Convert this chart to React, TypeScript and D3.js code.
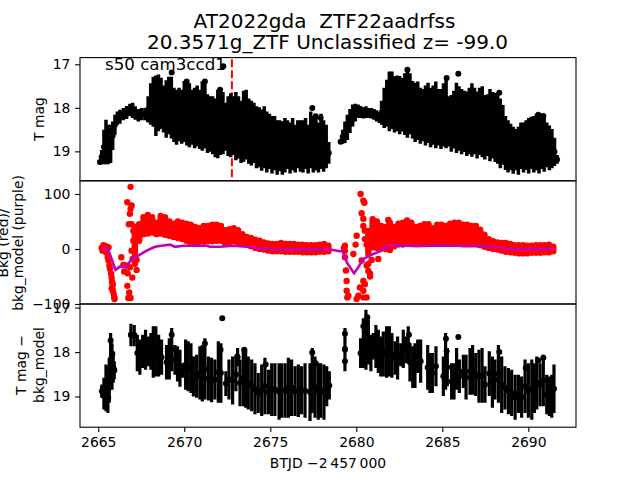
import { useEffect, useRef } from "react";
import * as d3 from "d3";

// T mag, dense part of the first and second orbit (bright and faint end of each bar)
const topTimeA = [2665.10,2665.20,2665.33,2665.45,2665.58,2665.72,2665.84,2665.97,2666.11,2666.26,2666.46,2666.65,2666.84,2667.00,2667.15,2667.33,2667.52,2667.72,2667.87,
  2667.90,2668.05,2668.20,2668.35,2668.50,2668.65,2668.80,2668.95,2669.10,2669.25,2669.40,2669.55,2669.70,2669.85,2670.00,2670.15,2670.30,2670.45,2670.60,2670.75,2670.90,2671.05,2671.20,2671.35,2671.50,2671.65,2671.80,2671.95,2672.10,2672.25,2672.40,2672.55,2672.70,2672.85,2673.00,2673.15,2673.30,2673.45,2673.60,2673.75,2673.90,2674.05,2674.20,2674.35,2674.50,2674.65,2674.80,2674.95,2675.10,2675.25,2675.40,2675.55,2675.70,2675.85,2676.00,2676.15,2676.30,2676.45,2676.60,2676.75,2676.90,2677.05,2677.20,2677.35,2677.50,2677.65,2677.80,2677.95,2678.10,2678.25,2678.40];
const topBrightA = [19.21,18.98,18.52,18.29,18.40,18.40,18.33,18.17,18.10,18.06,18.02,17.97,17.92,17.90,17.98,18.04,18.02,18.02,18.02,
  17.75,17.45,17.30,17.27,17.25,17.32,17.50,17.38,17.30,17.30,17.55,17.60,17.55,17.60,17.40,17.35,17.45,17.60,17.55,17.50,17.60,17.40,17.37,17.70,17.75,17.75,17.80,17.60,17.55,17.65,17.90,17.75,17.68,17.75,17.65,17.75,17.85,17.62,17.60,17.80,17.85,17.90,17.98,18.00,18.05,17.98,18.10,18.15,18.20,18.20,18.30,18.30,18.32,18.25,18.30,18.35,18.25,18.40,18.30,18.30,18.30,18.25,18.40,18.10,18.20,18.25,18.35,18.15,18.30,18.40,18.80];
const topFaintA = [19.31,19.31,19.31,19.31,19.31,19.28,18.98,18.63,18.40,18.38,18.30,18.27,18.21,18.25,18.29,18.33,18.30,18.30,18.33,
  18.35,18.40,18.45,18.66,18.55,18.50,18.58,18.70,18.62,18.72,18.80,18.86,18.78,18.84,18.80,18.88,18.92,18.86,18.94,18.90,18.96,19.00,18.95,19.05,19.02,19.08,19.15,19.17,19.10,19.08,19.00,19.12,19.15,19.10,19.22,19.18,19.28,19.25,19.20,19.30,19.34,19.28,19.40,19.38,19.46,19.40,19.50,19.42,19.52,19.45,19.55,19.47,19.55,19.50,19.42,19.52,19.45,19.50,19.40,19.48,19.50,19.42,19.52,19.40,19.50,19.45,19.50,19.42,19.48,19.40,19.30];
const topTimeB = [2679.09,2679.21,2679.34,2679.48,2679.63,2679.79,2679.94,2680.10,2680.25,2680.41,2680.56,2680.72,2680.87,2681.03,2681.18,2681.34,
  2681.47,2681.62,2681.77,2681.92,2682.07,2682.22,2682.37,2682.52,2682.67,2682.82,2682.97,2683.12,2683.27,2683.42,2683.57,2683.72,2683.87,2684.02,2684.17,2684.32,2684.47,2684.62,2684.77,2684.92,2685.07,2685.22,2685.37,2685.52,2685.67,2685.82,2685.97,2686.12,2686.27,2686.42,2686.57,2686.72,2686.87,2687.02,2687.17,2687.32,2687.47,2687.62,2687.77,2687.92,2688.07,2688.22,2688.37,2688.52,2688.67,2688.82,2688.97,2689.12,2689.27,2689.42,2689.57,2689.72,2689.87,2690.02,2690.17,2690.32,2690.47,2690.62,2690.77,2690.92,2691.07,2691.22,2691.37,2691.52,2691.67];
const topBrightB = [18.75,18.52,18.33,18.17,18.04,17.94,17.92,17.94,17.97,18.00,17.98,18.02,18.02,18.04,18.07,18.12,
  17.85,17.55,17.37,17.18,17.18,17.29,17.27,17.28,17.33,17.22,17.10,17.22,17.40,17.44,17.41,17.55,17.58,17.50,17.44,17.55,17.50,17.41,17.58,17.58,17.45,17.29,17.75,17.72,17.62,17.44,17.52,17.58,17.62,17.64,17.55,17.45,17.55,17.64,17.55,17.52,17.72,17.70,17.58,17.65,17.67,17.67,17.80,17.95,18.20,18.30,18.38,18.45,18.50,18.45,18.35,18.35,18.30,18.25,18.22,18.20,18.15,18.13,18.15,18.20,18.35,18.42,18.50,18.70,19.10];
const topFaintB = [18.84,18.84,18.82,18.75,18.59,18.44,18.33,18.25,18.25,18.26,18.25,18.25,18.26,18.29,18.33,18.36,
  18.40,18.48,18.45,18.55,18.50,18.58,18.55,18.62,18.56,18.64,18.70,18.62,18.72,18.80,18.75,18.84,18.78,18.88,18.82,18.92,18.86,18.94,18.88,18.96,18.90,18.94,18.90,19.02,18.95,19.05,19.00,19.08,19.03,19.12,19.08,19.14,19.08,19.18,19.10,19.15,19.20,19.12,19.24,19.18,19.26,19.30,19.40,19.32,19.44,19.50,19.45,19.53,19.45,19.55,19.42,19.50,19.44,19.52,19.42,19.50,19.45,19.52,19.42,19.48,19.38,19.45,19.40,19.35,19.30];
const topSpotTime = [2672.27,2669.27,2677.44,2677.64,2677.93,2685.93,2685.25,2682.97,2688.31,2690.58,2690.87,2670.14,2671.20,2672.08];
const topSpotMag = [17.06,17.20,18.02,18.21,18.25,17.23,17.33,17.14,17.67,18.17,18.20,17.41,17.41,17.60];

// background flux, red band (high and low edge) plus the loose points around the gaps
const bkgTimeA = [2667.13,2667.38,2667.63,2667.88,2668.13,2668.38,2668.63,2668.88,2669.13,2669.38,2669.63,2669.88,2670.13,2670.38,2670.63,2670.88,2671.13,2671.38,2671.63,2671.88,2672.13,2672.38,2672.63,2672.88,2673.13,2673.38,2673.63,2673.88,2674.13,2674.38,2674.63,2674.88,2675.13,2675.38,2675.63,2675.88,2676.13,2676.38,2676.63,2676.88,2677.13,2677.38,2677.63,2677.88,2678.13,2678.38];
const bkgHighA = [40,45,58,62,58,48,60,58,50,46,50,48,46,44,40,38,42,42,44,44,42,34,36,38,34,27,22,20,17,15,12,10,9,9,11,9,9,9,8,8,7,7,7,8,9,6];
const bkgLowA = [-9,15,27,28,30,27,28,26,24,22,20,18,15,10,12,13,13,14,14,15,15,10,12,14,12,10,8,5,2,0,-1,-3,-4,-4,-4,-5,-5,-5,-5,-6,-6,-6,-6,-5,-5,-4];
const bkgTimeB = [2680.70,2680.95,2681.20,2681.45,2681.70,2681.95,2682.20,2682.45,2682.70,2682.95,2683.20,2683.45,2683.70,2683.95,2684.20,2684.45,2684.70,2684.95,2685.20,2685.45,2685.70,2685.95,2686.20,2686.45,2686.70,2686.95,2687.20,2687.45,2687.70,2687.95,2688.20,2688.45,2688.70,2688.95,2689.20,2689.45,2689.70,2689.95,2690.20,2690.45,2690.70,2690.95,2691.20,2691.45];
const bkgHighB = [33,54,50,42,40,48,40,46,48,52,48,40,42,45,45,38,44,44,42,46,48,48,44,44,42,42,35,26,18,14,12,11,11,9,7,7,7,6,6,7,7,7,8,4];
const bkgLowB = [-9,3,2,2,0,-2,5,8,8,10,10,10,10,10,10,10,10,10,10,10,10,10,10,9,9,9,7,4,2,0,-1,-3,-5,-6,-7,-8,-8,-8,-7,-7,-7,-6,-6,-4];
const bkgSpotTime = [2665.20,2665.25,2665.30,2665.30,2665.40,2665.50,2665.60,2665.45,2665.55,2665.60,2665.65,2665.68,2665.75,2665.78,2665.80,2665.82,2665.85,2665.90,2665.93,2665.95,2665.78,2665.85,
  2666.34,2666.46,2666.51,2666.71,2666.98,2667.23,2666.69,2666.80,2666.75,2666.88,2666.78,2666.94,2666.84,2666.88,2666.94,2666.69,2666.88,2667.00,2666.94,2667.04,2667.04,2667.13,2666.84,2667.23,2666.65,
  2679.28,2679.34,2679.34,2679.34,2679.40,2679.44,2679.44,2679.48,2679.54,2679.83,2679.96,2680.02,2680.25,2680.41,2680.47,2680.31,2680.41,2680.41,2680.50,2680.50,2680.60,2680.31,2680.70,2680.80,2680.41,2680.21,2680.41,2680.12,2680.02,2680.41,2680.60,2680.50,2680.70,2680.80,2680.60,2680.89,2681.28,2681.86,2681.92];
const bkgSpotValue = [2,-3,4,7,5,4,3,-6,-15,-21,-30,-36,-45,-52,-60,-70,-76,-82,-88,-91,-72,-64,
  -15,-29,-41,-44,-52,-38,-67,-79,-89,-89,45,45,64,73,79,85,113,-18,-3,15,33,-27,-33,-20,-30,
  2,6,-3,-15,-39,-58,-76,-88,-85,-9,8,24,100,88,84,65,55,42,33,18,8,-21,-27,-45,-58,-70,-76,-85,-91,-88,-88,-64,-40,-50,-30,-20,-18,53,48];
const modelTime = [2665.20,2665.58,2665.78,2666.00,2666.26,2666.65,2666.94,2667.33,2667.81,2668.30,2668.68,2669.17,2669.46,2669.94,2671.30,2671.50,2672.08,2672.85,2673.63,2674.40,2675.56,2677.50,2678.47,2679.05,2679.21,2679.44,2679.87,2680.12,2680.41,2680.99,2681.47,2681.96,2682.54,2683.50,2684.28,2685.83,2686.22,2687.58,2688.93,2691.45];
const modelValue = [0,-1,-18,-38,-32,-32,-18,-12,-3,4,6,8,4,6,6,4,4,6,4,1,-1,-1,-1,-4,-4,-24,-44,-33,-18,-9,-3,7,7,5,6,6,5,5,0,0];

// T mag minus model
const subTime = [2665.21,2665.33,2665.45,2665.56,2665.64,2665.72,2665.80,2665.87,2665.93,
  2666.90,2667.09,2667.27,2667.42,2667.58,2667.75,2667.91,2668.06,2668.20,2668.35,2668.51,2668.68,2668.97,2669.13,2669.27,2669.46,2669.61,2669.75,2669.90,2670.08,2670.23,2670.39,2670.53,2670.72,2670.91,2671.05,2671.20,2671.40,2671.59,2671.78,2671.98,2672.13,2672.42,2672.60,2672.81,2673.00,2673.10,2673.24,2673.43,2673.57,2673.72,2673.92,2674.11,2674.30,2674.50,2674.69,2674.89,2675.08,2675.27,2675.51,2675.66,2675.86,2676.05,2676.24,2676.44,2676.63,2676.82,2677.02,2677.31,2677.44,2677.60,2677.79,2677.93,2678.12,2678.28,2678.43,
  2679.34,2680.25,2680.41,2680.56,2680.70,2680.85,2680.99,2681.14,2681.28,2681.42,2681.57,2681.76,2681.92,2682.07,2682.25,2682.40,2682.58,2682.73,2682.89,2683.02,2683.12,2683.28,2683.41,2683.57,2683.74,2684.15,2684.28,2684.42,2684.63,2685.06,2685.19,2685.29,2685.54,2685.68,2685.83,2685.99,2686.22,2686.38,2686.61,2686.76,2686.94,2687.13,2687.31,2687.48,2687.73,2687.91,2688.06,2688.26,2688.45,2688.64,2688.84,2689.03,2689.23,2689.42,2689.61,2689.81,2690.00,2690.20,2690.35,2690.49,2690.68,2690.87,2691.07,2691.22,2691.36,2691.49];
const subBright = [18.73,18.58,18.28,18.32,18.17,17.57,17.80,18.02,18.21,
  17.365,17.39,17.61,17.72,17.61,17.50,17.65,17.57,17.42,17.42,17.61,17.72,17.84,17.69,17.46,17.84,17.87,17.95,18.25,17.72,17.76,17.80,18.10,18.06,17.87,17.84,17.69,18.10,18.13,18.17,17.76,17.80,18.43,18.17,18.10,18.13,17.91,18.17,17.91,17.95,18.10,18.17,18.25,18.47,18.28,18.13,18.40,18.25,18.25,18.25,18.25,18.25,18.13,18.17,18.32,18.28,18.32,18.25,18.25,17.91,18.10,18.25,18.25,18.28,18.32,18.43,
  17.46,17.69,17.24,17.05,17.27,17.61,17.57,17.39,17.50,17.65,17.54,17.42,17.42,17.57,17.76,17.65,17.80,17.50,17.65,17.42,17.80,17.87,17.80,17.72,17.72,17.84,18.02,18.02,17.87,18.10,17.57,17.91,18.25,18.25,17.91,18.17,18.06,18.06,17.91,17.84,18.02,17.95,17.91,18.32,17.98,18.10,18.17,17.84,18.10,18.32,18.36,18.40,18.51,18.51,18.55,18.17,18.25,18.17,18.25,18.10,18.25,18.06,18.51,18.55,18.51,18.28];
const subFaint = [19.03,19.29,19.33,19.37,19.14,18.77,18.85,18.69,18.62,
  17.87,17.87,18.43,18.51,18.36,18.40,18.32,18.40,18.58,18.55,18.55,18.51,18.62,18.62,18.43,18.51,18.66,18.78,18.58,18.85,18.88,18.92,19.00,19.03,19.07,19.11,19.07,19.09,19.13,19.07,19.14,19.14,18.99,19.07,19.18,18.88,18.32,19.22,19.22,19.25,19.29,19.33,19.40,19.37,19.44,19.40,19.40,19.44,19.44,19.52,19.48,19.48,19.48,19.44,19.44,19.46,19.40,19.48,19.55,19.37,19.48,19.52,19.48,19.52,19.22,19.07,
  18.43,18.36,18.36,18.40,18.28,18.43,18.17,18.36,18.47,18.55,18.55,18.58,18.55,18.58,18.51,18.62,18.32,18.36,18.25,18.25,18.66,18.81,18.81,18.47,18.69,18.85,18.92,18.92,18.77,18.99,18.85,18.77,19.07,19.07,18.85,18.92,18.81,19.07,18.96,18.96,18.99,19.14,19.14,19.14,18.99,19.25,19.07,19.14,19.37,19.29,19.40,19.44,19.52,19.37,19.48,19.37,19.48,19.52,19.37,19.29,19.22,19.22,19.40,19.44,19.48,19.37];
const subSpotTime = [2665.72,2665.82,2665.93,2665.29,2665.29,2665.58,2672.21,2666.90,2667.09,2669.27,2671.20,2671.07,2672.11,2673.08,2673.49,2677.44,2677.64,2674.73,2679.34,2679.34,2679.34,2680.64,2680.41,2685.93,2685.21,2685.25,2683.06,2688.31,2690.58,2690.87,2689.85];
const subSpotMag = [17.74,18.04,18.40,18.81,18.98,19.03,17.24,17.61,17.61,17.61,17.81,17.95,17.95,18.10,17.95,18.01,18.25,18.28,17.59,17.93,18.21,17.22,17.42,17.66,17.70,17.98,17.61,18.00,18.19,18.13,18.36];

const xTicks = [2665, 2670, 2675, 2680, 2685, 2690];
const magTicks = [17, 18, 19];
const bkgTicks = [-100, 0, 100];
const markTime = 2672.77;

export default function App() {
  const ref = useRef<SVGSVGElement>(null);

  useEffect(() => {
    const svg = d3.select(ref.current);
    svg.selectAll("*").remove();
    const font = "'DejaVu Sans', sans-serif";
    const left = 80, right = 576;

    const x = d3.scaleLinear().domain([2663.94, 2692.77]).range([left, right]);
    const yTop = d3.scaleLinear().domain([16.86, 19.69]).range([57.6, 180.8]);
    const yMid = d3.scaleLinear().domain([124, -100]).range([180.8, 304]);
    const ySub = d3.scaleLinear().domain([16.92, 19.69]).range([304, 427.2]);

    const defs = svg.append("defs");
    [[57.6, "clipTop"], [180.8, "clipMid"], [304, "clipSub"]].forEach(([y, id]) => {
      defs.append("clipPath").attr("id", id as string).append("rect")
        .attr("x", left).attr("y", y as number).attr("width", right - left).attr("height", 123.2);
    });

    function bars(g: any, y: any, time: number[], bright: number[], faint: number[], width: number) {
      g.selectAll(null).data(time).enter().append("line")
        .attr("x1", (d: number) => x(d)).attr("x2", (d: number) => x(d))
        .attr("y1", (_: number, i: number) => y(bright[i]))
        .attr("y2", (_: number, i: number) => y(faint[i]))
        .attr("stroke", "black").attr("stroke-width", width);
      g.selectAll(null).data(time).enter().append("circle")
        .attr("cx", (d: number) => x(d))
        .attr("cy", (_: number, i: number) => y((bright[i] + faint[i]) / 2))
        .attr("r", 3).attr("fill", "black");
    }

    function spots(g: any, y: any, time: number[], value: number[], color: string, r: number) {
      g.selectAll(null).data(time).enter().append("circle")
        .attr("cx", (d: number) => x(d))
        .attr("cy", (_: number, i: number) => y(value[i]))
        .attr("r", r).attr("fill", color);
    }

    // top panel
    const top = svg.append("g").attr("clip-path", "url(#clipTop)");
    top.append("line")
      .attr("x1", x(markTime)).attr("x2", x(markTime))
      .attr("y1", yTop(16.9)).attr("y2", yTop(19.69))
      .attr("stroke", "red").attr("stroke-width", 2).attr("stroke-dasharray", "8,3");
    bars(top, yTop, topTimeA, topBrightA, topFaintA, 3.5);
    bars(top, yTop, topTimeB, topBrightB, topFaintB, 3.5);
    spots(top, yTop, topSpotTime, topSpotMag, "black", 3);

    // middle panel
    const mid = svg.append("g").attr("clip-path", "url(#clipMid)");
    [[bkgTimeA, bkgHighA, bkgLowA], [bkgTimeB, bkgHighB, bkgLowB]].forEach(([time, high, low]) => {
      mid.selectAll(null).data(time).enter().append("line")
        .attr("x1", (d: number) => x(d)).attr("x2", (d: number) => x(d))
        .attr("y1", (_: number, i: number) => yMid(high[i]))
        .attr("y2", (_: number, i: number) => yMid(low[i]))
        .attr("stroke", "red").attr("stroke-width", 6.4).attr("stroke-linecap", "round");
    });
    spots(mid, yMid, bkgSpotTime, bkgSpotValue, "red", 3.2);
    mid.append("path")
      .attr("d", d3.line<number>().x((d) => x(d)).y((_, i) => yMid(modelValue[i]))(modelTime))
      .attr("fill", "none").attr("stroke", "#bf00bf").attr("stroke-width", 2.6);

    // bottom panel
    const sub = svg.append("g").attr("clip-path", "url(#clipSub)");
    bars(sub, ySub, subTime, subBright, subFaint, 3.2);
    spots(sub, ySub, subSpotTime, subSpotMag, "black", 3);

    // frames and axes
    [57.6, 180.8, 304].forEach((y) => {
      svg.append("rect").attr("x", left).attr("y", y).attr("width", right - left).attr("height", 123.2)
        .attr("fill", "none").attr("stroke", "black").attr("stroke-width", 1.1);
    });

    function styleAxis(g: any) {
      g.select(".domain").remove();
      g.selectAll("line").attr("stroke", "black").attr("stroke-width", 1.1);
      g.selectAll("text").attr("font-family", font).attr("font-size", 13.9).attr("fill", "#000");
    }

    svg.append("g").attr("transform", "translate(80,0.6)")
      .call(d3.axisLeft(yTop).tickValues(magTicks).tickFormat(d3.format("d") as any).tickSize(4.9).tickPadding(4.8))
      .call(styleAxis);
    svg.append("g").attr("transform", "translate(80,0)")
      .call(d3.axisLeft(yMid).tickValues(bkgTicks).tickFormat((d: any) => String(d).replace("-", "\u2212")).tickSize(4.9).tickPadding(4.8))
      .call(styleAxis);
    svg.append("g").attr("transform", "translate(80,0)")
      .call(d3.axisLeft(ySub).tickValues(magTicks).tickFormat(d3.format("d") as any).tickSize(4.9).tickPadding(4.8))
      .call(styleAxis);
    svg.append("g").attr("transform", "translate(0,427.2)")
      .call(d3.axisBottom(x).tickValues(xTicks).tickFormat(d3.format("d") as any).tickSize(4.9).tickPadding(4.8))
      .call(styleAxis);

    // text
    const label = (tx: number, ty: number, s: string, size: number, rotate = false, anchor = "middle") => {
      svg.append("text")
        .attr("transform", `translate(${tx},${ty})${rotate ? " rotate(-90)" : ""}`)
        .attr("text-anchor", anchor).attr("font-family", font).attr("font-size", size)
        .attr("xml:space", "preserve").style("white-space", "pre").text(s);
    };
    label(324.5, 27.5, "AT2022gda  ZTF22aadrfss", 20);
    label(327.5, 49, "20.3571g_ZTF Unclassified z= -99.0", 20);
    label(105, 70, "s50 cam3ccd1", 16.67, false, "start");
    label(44, 119, "T mag", 13.9, true);
    label(8, 243, "Bkg (red)/", 13.9, true);
    label(23, 243, "bkg_model (purple)", 13.9, true);
    label(26, 365, "T mag \u2212", 13.9, true);
    label(44, 365, "bkg_model", 13.9, true);
    label(328, 468, "BTJD \u22122\u2009457\u2009000", 13.9);
  }, []);

  return (
    <svg ref={ref} width={640} height={480}
      style={{ position: "absolute", left: 0, top: 0, background: "white" }} />
  );
}
